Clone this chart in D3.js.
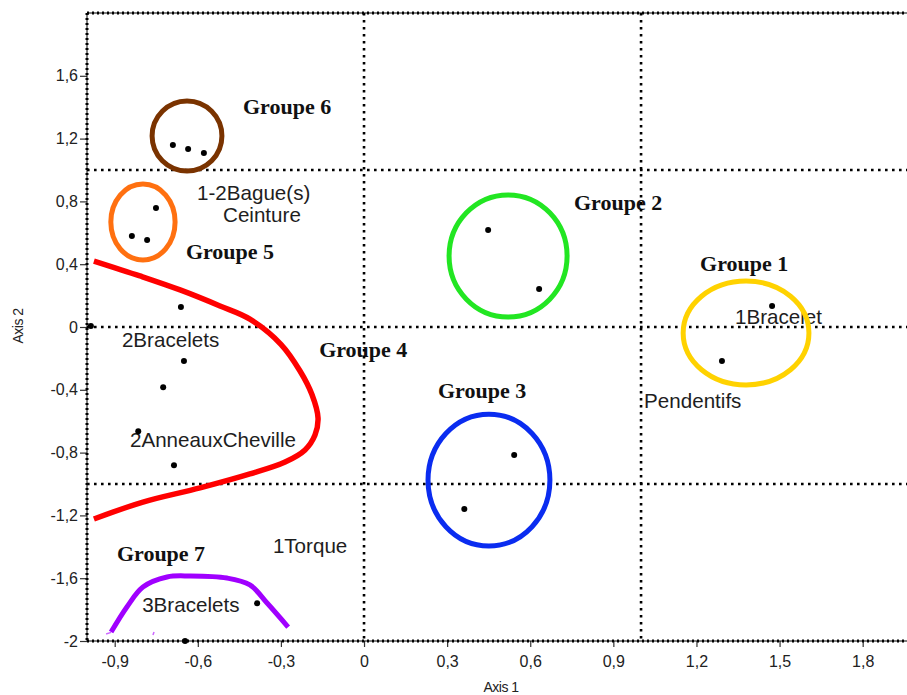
<!DOCTYPE html>
<html><head><meta charset="utf-8">
<script src="https://cdn.jsdelivr.net/npm/d3@7"></script>
<style>
html,body{margin:0;padding:0;background:#fff;}
svg{display:block;}
</style></head>
<body>
<svg id="chart" width="907" height="695"></svg>
<script>
// ---------- data ----------
const xTicks = [-0.9,-0.6,-0.3,0,0.3,0.6,0.9,1.2,1.5,1.8];
const yTicks = [-2,-1.6,-1.2,-0.8,-0.4,0,0.4,0.8,1.2,1.6];
const xGrid = [0, 1];
const yGrid = [1, 0, -1];

const pointX = [-0.690,-0.635,-0.578,-0.751,-0.838,-0.783,-0.661,-0.986,-0.650,-0.725,-0.815,-0.686,-0.386,-0.646,0.448,0.632,1.473,1.292,0.542,0.362];
const pointY = [ 1.160, 1.134, 1.108, 0.758, 0.580, 0.554, 0.127, 0.006,-0.217,-0.384,-0.664,-0.880,-1.760,-2.000,0.618,0.242,0.134,-0.217,-0.815,-1.160];

const ellipseNames = ["Groupe 6","Groupe 5","Groupe 2","Groupe 1","Groupe 3"];
const ellipseCx = [-0.639,-0.798,0.520,1.379,0.451];
const ellipseCy = [ 1.217, 0.669,0.452,-0.038,-0.975];
const ellipseRx = [ 0.126, 0.116,0.213,0.227,0.220];
const ellipseRy = [ 0.223, 0.242,0.389,0.331,0.420];
const ellipseColors = ["#7a3300","#ff7010","#22e622","#ffd200","#0a2cf0"];

const redCurveX = [-0.975,-0.809,-0.664,-0.520,-0.412,-0.300,-0.231,-0.188,-0.166,-0.177,-0.213,-0.285,-0.412,-0.592,-0.798,-0.975];
const redCurveY = [ 0.420, 0.325, 0.236, 0.134, 0.050,-0.110,-0.280,-0.430,-0.580,-0.688,-0.783,-0.860,-0.936,-1.025,-1.115,-1.223];
const purpleCurveX = [-0.913,-0.856,-0.798,-0.711,-0.628,-0.495,-0.412,-0.350,-0.274];
const purpleCurveY = [-1.943,-1.783,-1.656,-1.592,-1.586,-1.599,-1.643,-1.758,-1.911];
const purpleStrayX = [[-0.931,-0.913],[-0.762,-0.758]];
const purpleStrayY = [[-1.955,-1.945],[-1.962,-1.943]];

const groupLabels = ["Groupe 6","Groupe 5","Groupe 4","Groupe 2","Groupe 1","Groupe 3","Groupe 7"];
const groupLabelX = [-0.437,-0.643,-0.162,0.758,1.213,0.267,-0.892];
const groupLabelY = [ 1.354, 0.433,-0.191,0.745,0.357,-0.452,-1.490];

const itemLabels = ["1-2Bague(s)","Ceinture","2Bracelets","1Bracelet","Pendentifs","2AnneauxCheville","1Torque","3Bracelets"];
const itemLabelX = [-0.603,-0.509,-0.874,1.339,1.011,-0.845,-0.329,-0.801];
const itemLabelY = [ 0.809, 0.669,-0.127,0.019,-0.516,-0.764,-1.439,-1.815];

const xTitle = "Axis 1";
const yTitle = "Axis 2";

// ---------- chart ----------
const svg = d3.select("#chart");
const mLeft = 87, mRight = 907, mTop = 13, mBottom = 641;
const x = d3.scaleLinear().domain([-1, 1.96]).range([mLeft, mRight]);
const y = d3.scaleLinear().domain([-2, 2]).range([mBottom, mTop]);
const fmt = d => d === 0 ? "0" : String(+d.toFixed(1)).replace(".", ",");
const SANS = "'Liberation Sans', Arial, sans-serif";
const SERIF = "'Liberation Serif', 'Times New Roman', serif";

// item labels (under everything)
svg.append("g").selectAll("text").data(itemLabels).join("text")
  .attr("x", (d,i) => x(itemLabelX[i]))
  .attr("y", (d,i) => y(itemLabelY[i]))
  .attr("font-family", SANS).attr("font-size", 20.6).attr("fill", "#1e1e1e")
  .text(d => d);

// group labels
svg.append("g").selectAll("text").data(groupLabels).join("text")
  .attr("x", (d,i) => x(groupLabelX[i]))
  .attr("y", (d,i) => y(groupLabelY[i]))
  .attr("font-family", SERIF).attr("font-weight", "bold").attr("font-size", 22).attr("fill", "#111")
  .text(d => d);

// dotted reference lines
const grid = svg.append("g").attr("stroke", "#000").attr("stroke-width", 2.6).attr("stroke-dasharray", "2.6,4.4");
grid.selectAll("line.v").data(xGrid).join("line").attr("class","v")
  .attr("x1", d => x(d)).attr("x2", d => x(d)).attr("y1", y(2)).attr("y2", y(-2));
grid.selectAll("line.h").data(yGrid).join("line").attr("class","h")
  .attr("x1", x(-1)).attr("x2", x(1.96)).attr("y1", d => y(d)).attr("y2", d => y(d));

// ellipses
svg.append("g").selectAll("ellipse").data(ellipseNames).join("ellipse")
  .attr("cx", (d,i) => x(ellipseCx[i]))
  .attr("cy", (d,i) => y(ellipseCy[i]))
  .attr("rx", (d,i) => x(ellipseRx[i]) - x(0))
  .attr("ry", (d,i) => y(0) - y(ellipseRy[i]))
  .attr("fill", "none").attr("stroke", (d,i) => ellipseColors[i]).attr("stroke-width", 5);

// curves
const line = d3.line().curve(d3.curveCatmullRom.alpha(0.5));
svg.append("path")
  .attr("d", line(redCurveX.map((v,i) => [x(v), y(redCurveY[i])])))
  .attr("fill", "none").attr("stroke", "#ff0000").attr("stroke-width", 5.5).attr("stroke-linecap", "butt");
svg.append("path")
  .attr("d", line(purpleCurveX.map((v,i) => [x(v), y(purpleCurveY[i])])))
  .attr("fill", "none").attr("stroke", "#a000ff").attr("stroke-width", 5);
purpleStrayX.forEach((xs, k) => {
  svg.append("path")
    .attr("d", d3.line()(xs.map((v,i) => [x(v), y(purpleStrayY[k][i])])))
    .attr("fill", "none").attr("stroke", "#cc66ff").attr("stroke-width", 1.5);
});

// points
svg.append("g").selectAll("circle").data(pointX).join("circle")
  .attr("cx", (d,i) => x(d)).attr("cy", (d,i) => y(pointY[i])).attr("r", 3).attr("fill", "#000");

// axes
const gx = svg.append("g").attr("transform", `translate(0,${mBottom})`)
  .call(d3.axisBottom(x).tickValues(xTicks).tickFormat(fmt).tickSize(6).tickPadding(9));
const gy = svg.append("g").attr("transform", `translate(${mLeft},0)`)
  .call(d3.axisLeft(y).tickValues(yTicks).tickFormat(fmt).tickSize(7).tickPadding(2));
[gx, gy].forEach(g => {
  g.select(".domain").remove();
  g.selectAll("text").attr("font-family", SANS).attr("font-size", 16).attr("fill", "#222");
  g.selectAll("line").attr("stroke", "#333").attr("stroke-width", 1.2);
});

// frame (solid thin + dotted)
const frame = svg.append("g");
const frameSegs = [
  [[mLeft, mTop], [mRight, mTop]],
  [[mLeft, mTop], [mLeft, mBottom]],
  [[mLeft, mBottom], [mRight, mBottom]]
];
frameSegs.forEach(s => {
  frame.append("line").attr("x1", s[0][0]).attr("y1", s[0][1]).attr("x2", s[1][0]).attr("y2", s[1][1])
    .attr("stroke", "#000").attr("stroke-width", 1);
  frame.append("line").attr("x1", s[0][0]).attr("y1", s[0][1]).attr("x2", s[1][0]).attr("y2", s[1][1])
    .attr("stroke", "#000").attr("stroke-width", 3).attr("stroke-dasharray", "2,3");
});

// axis titles
svg.append("text").attr("x", 501).attr("y", 692).attr("text-anchor", "middle")
  .attr("font-family", SANS).attr("font-size", 14).attr("letter-spacing", -0.5).attr("fill", "#222").text(xTitle);
svg.append("text").attr("transform", "translate(23,326) rotate(-90)").attr("text-anchor", "middle")
  .attr("font-family", SANS).attr("font-size", 14).attr("letter-spacing", -0.5).attr("fill", "#222").text(yTitle);
</script>
</body></html>
